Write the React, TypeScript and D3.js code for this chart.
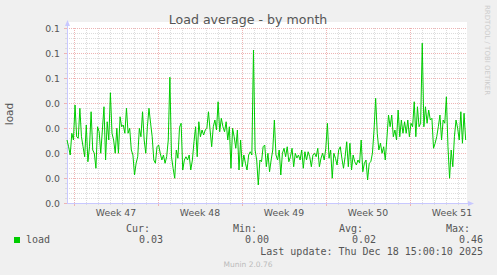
import React from "react";
import * as d3 from "d3";

const W = 497;
const H = 275;

// load average samples, evenly spaced in time
const loadValues = [
  0.0252, 0.0225, 0.0192, 0.0279, 0.0252, 0.0392, 0.0265, 0.0259, 0.0379, 0.0265,
  0.0225, 0.0185, 0.0312, 0.0165, 0.0225, 0.0365, 0.0212, 0.0199, 0.0139, 0.0305,
  0.0285, 0.0199, 0.0292, 0.0385, 0.0172, 0.0325, 0.0252, 0.0441, 0.0279, 0.0252,
  0.0199, 0.0299, 0.0199, 0.0345, 0.0305, 0.0312, 0.0279, 0.0379, 0.0279, 0.0299,
  0.0212, 0.0192, 0.0112, 0.0159, 0.0185, 0.0299, 0.0265, 0.0365, 0.0252, 0.0199,
  0.0305, 0.0379, 0.0319, 0.0265, 0.0172, 0.0159, 0.0225, 0.0232, 0.0199, 0.0172,
  0.0192, 0.0159, 0.0185, 0.0252, 0.0503, 0.0185, 0.0139, 0.0099, 0.0212, 0.0179,
  0.0303, 0.0319, 0.0132, 0.0172, 0.0185, 0.0172, 0.0192, 0.0132, 0.0172, 0.0245,
  0.0305, 0.0185, 0.0325, 0.0265, 0.0292, 0.0272, 0.0292, 0.0299, 0.0365, 0.0292,
  0.0225, 0.0305, 0.0332, 0.0292, 0.0405, 0.0285, 0.0339, 0.0305, 0.0285, 0.0325,
  0.0252, 0.0305, 0.0139, 0.0299, 0.0265, 0.0219, 0.0292, 0.0132, 0.0252, 0.0145,
  0.0192, 0.0159, 0.0132, 0.0192, 0.0205, 0.0192, 0.0612, 0.0212, 0.0172, 0.0072,
  0.0172, 0.0165, 0.0225, 0.0232, 0.0145, 0.0199, 0.0125, 0.0172, 0.0212, 0.0332,
  0.0192, 0.0172, 0.0212, 0.0112, 0.0199, 0.0219, 0.0185, 0.0225, 0.0165, 0.0185,
  0.0219, 0.0145, 0.0199, 0.0180, 0.0192, 0.0172, 0.0212, 0.0139, 0.0205, 0.0172,
  0.0205, 0.0185, 0.0145, 0.0192, 0.0199, 0.0185, 0.0219, 0.0145, 0.0179, 0.0199,
  0.0172, 0.0219, 0.0319, 0.0179, 0.0212, 0.0099, 0.0199, 0.0179, 0.0152, 0.0212,
  0.0225, 0.0179, 0.0139, 0.0185, 0.0245, 0.0145, 0.0239, 0.0132, 0.0192, 0.0165,
  0.0152, 0.0172, 0.0160, 0.0252, 0.0125, 0.0159, 0.0172, 0.0092, 0.0159, 0.0165,
  0.0199, 0.0292, 0.0419, 0.0279, 0.0212, 0.0239, 0.0199, 0.0225, 0.0172, 0.0259,
  0.0352, 0.0305, 0.0352, 0.0265, 0.0292, 0.0252, 0.0372, 0.0265, 0.0332, 0.0279,
  0.0325, 0.0279, 0.0332, 0.0265, 0.0319, 0.0305, 0.0405, 0.0265, 0.0385, 0.0305,
  0.0319, 0.0639, 0.0305, 0.0385, 0.0319, 0.0372, 0.0332, 0.0339, 0.0219, 0.0239,
  0.0265, 0.0305, 0.0352, 0.0252, 0.0332, 0.0319, 0.0425, 0.0225, 0.0099, 0.0212,
  0.0145, 0.0265, 0.0332, 0.0299, 0.0252, 0.0365, 0.0239, 0.0359, 0.0252,
];

const yTicks = [0, 0.01, 0.02, 0.03, 0.04, 0.05, 0.06, 0.07];
const weekStarts = [
  new Date(Date.UTC(2025, 10, 17)),
  new Date(Date.UTC(2025, 10, 24)),
  new Date(Date.UTC(2025, 11, 1)),
  new Date(Date.UTC(2025, 11, 8)),
  new Date(Date.UTC(2025, 11, 15)),
];
const weekLabels = ["Week 47", "Week 48", "Week 49", "Week 50", "Week 51"];
const legendHeaders = ["Cur:", "Min:", "Avg:", "Max:"];
const legendValues = ["0.03", "0.00", "0.02", "0.46"];
const seriesName = "load";
const lastUpdate = "Last update: Thu Dec 18 15:00:10 2025";

const viewStart = new Date(Date.UTC(2025, 10, 16, 10, 0));
const viewEnd = new Date(Date.UTC(2025, 11, 19, 18, 0));
const dataStart = viewStart;
const dataEnd = new Date(Date.UTC(2025, 11, 19, 15, 20));

export default function App() {
  const left = 67;
  const right = 467;
  const top = 28;
  const bottom = 203;

  const x = d3.scaleUtc().domain([viewStart, viewEnd]).range([left, right]);
  const y = d3.scaleLinear().domain([0, 0.07]).range([bottom, top]);

  const n = loadValues.length;
  const tStep = (dataEnd.getTime() - dataStart.getTime()) / (n - 1);
  const pts = loadValues.map((v, i) => ({ t: new Date(dataStart.getTime() + i * tStep), v }));
  const line = d3
    .line<{ t: Date; v: number }>()
    .x((d) => x(d.t))
    .y((d) => y(d.v));

  const days = d3.utcDay.range(viewStart, viewEnd);
  const minorY = d3.range(0, 36).map((i) => i * 0.002);
  const fmt = d3.format(".1f");

  const gridMinor = "#dcdcdc";
  const gridMajor = "#eeb4b4";
  const axisCol = "#c8c8ff";
  const textCol = "#555555";
  const sans = "'DejaVu Sans', sans-serif";
  const mono = "'DejaVu Sans Mono', monospace";

  const colRight = [150, 257, 363, 470];
  const valRight = [163, 269, 376, 483];

  return (
    <svg
      width={W}
      height={H}
      style={{ position: "absolute", left: 0, top: 0, display: "block" }}
    >
      <rect x={0} y={0} width={W} height={H} fill="#f0f0f0" />
      <rect x={left} y={top - 6} width={right - left} height={bottom - top + 6} fill="#ffffff" />

      {/* minor horizontal grid */}
      {minorY.map((v, i) => (
        <g key={"my" + i}>
          <line
            x1={left}
            x2={right}
            y1={Math.round(y(v)) + 0.5}
            y2={Math.round(y(v)) + 0.5}
            stroke={gridMinor}
            strokeDasharray="1,1"
          />
          <line
            x1={left - 2}
            x2={left}
            y1={Math.round(y(v)) + 0.5}
            y2={Math.round(y(v)) + 0.5}
            stroke={gridMinor}
          />
        </g>
      ))}
      {/* minor vertical grid */}
      {days.map((d, i) => (
        <g key={"mx" + i}>
          <line
            x1={Math.round(x(d)) + 0.5}
            x2={Math.round(x(d)) + 0.5}
            y1={top}
            y2={bottom}
            stroke={gridMinor}
            strokeDasharray="1,1"
          />
          <line
            x1={Math.round(x(d)) + 0.5}
            x2={Math.round(x(d)) + 0.5}
            y1={bottom}
            y2={bottom + 2}
            stroke={gridMinor}
          />
        </g>
      ))}
      {/* major horizontal grid */}
      {yTicks.map((v, i) => (
        <g key={"My" + i}>
          <line
            x1={left}
            x2={right}
            y1={Math.round(y(v)) + 0.5}
            y2={Math.round(y(v)) + 0.5}
            stroke={gridMajor}
            strokeDasharray="1,1"
          />
          <line
            x1={left - 3}
            x2={left}
            y1={Math.round(y(v)) + 0.5}
            y2={Math.round(y(v)) + 0.5}
            stroke={gridMajor}
          />
          <text
            x={60}
            y={y(v) + 3.5}
            textAnchor="end"
            fontFamily={sans}
            fontSize={9.3}
            fill={textCol}
          >
            {fmt(v)}
          </text>
        </g>
      ))}
      {/* major vertical grid */}
      {weekStarts.map((d, i) => (
        <g key={"Mx" + i}>
          <line
            x1={Math.round(x(d)) + 0.5}
            x2={Math.round(x(d)) + 0.5}
            y1={top}
            y2={bottom}
            stroke={gridMajor}
            strokeDasharray="1,1"
          />
          <line
            x1={Math.round(x(d)) + 0.5}
            x2={Math.round(x(d)) + 0.5}
            y1={bottom}
            y2={bottom + 3}
            stroke={gridMajor}
          />
          <text
            x={x(new Date(d.getTime() + 3.5 * 86400000))}
            y={216}
            textAnchor="middle"
            fontFamily={sans}
            fontSize={9.3}
            fill={textCol}
          >
            {weekLabels[i]}
          </text>
        </g>
      ))}

      {/* axes */}
      <line x1={left + 0.5} x2={left + 0.5} y1={bottom} y2={top - 5} stroke={axisCol} />
      <path d={`M${left - 2},${top - 2} L${left + 3},${top - 2} L${left + 0.5},${top - 8} Z`} fill={axisCol} />
      <line x1={left} x2={right + 2} y1={bottom + 0.5} y2={bottom + 0.5} stroke={axisCol} />
      <path d={`M${right + 1},${bottom - 2} L${right + 1},${bottom + 3} L${right + 7},${bottom + 0.5} Z`} fill={axisCol} />

      {/* data line */}
      <path d={line(pts) || ""} fill="none" stroke="#00cc00" strokeWidth={1} />

      {/* title */}
      <text x={248} y={24} textAnchor="middle" fontFamily={sans} fontSize={12.6} fill={textCol}>
        Load average - by month
      </text>
      <text
        transform="translate(13,114) rotate(-90)"
        textAnchor="middle"
        fontFamily={sans}
        fontSize={10.5}
        fill={textCol}
      >
        load
      </text>
      <text
        transform="translate(485,5) rotate(90)"
        textAnchor="start"
        fontFamily={sans}
        fontSize={7}
        fill="#cccccc"
      >
        RRDTOOL / TOBI OETIKER
      </text>

      {/* legend */}
      {legendHeaders.map((h, i) => (
        <text key={"lh" + i} x={colRight[i]} y={232} textAnchor="end" fontFamily={mono} fontSize={10} fill={textCol}>
          {h}
        </text>
      ))}
      <rect x={14} y={237} width={6} height={6} fill="#00cc00" />
      <text x={26} y={243} fontFamily={mono} fontSize={10} fill={textCol}>
        {seriesName}
      </text>
      {legendValues.map((v, i) => (
        <text key={"lv" + i} x={valRight[i]} y={243} textAnchor="end" fontFamily={mono} fontSize={10} fill={textCol}>
          {v}
        </text>
      ))}
      <text x={483} y={255} textAnchor="end" fontFamily={mono} fontSize={10} fill={textCol}>
        {lastUpdate}
      </text>
      <text x={248} y={267} textAnchor="middle" fontFamily={sans} fontSize={7.5} fill="#bbbbbb">
        Munin 2.0.76
      </text>
    </svg>
  );
}
